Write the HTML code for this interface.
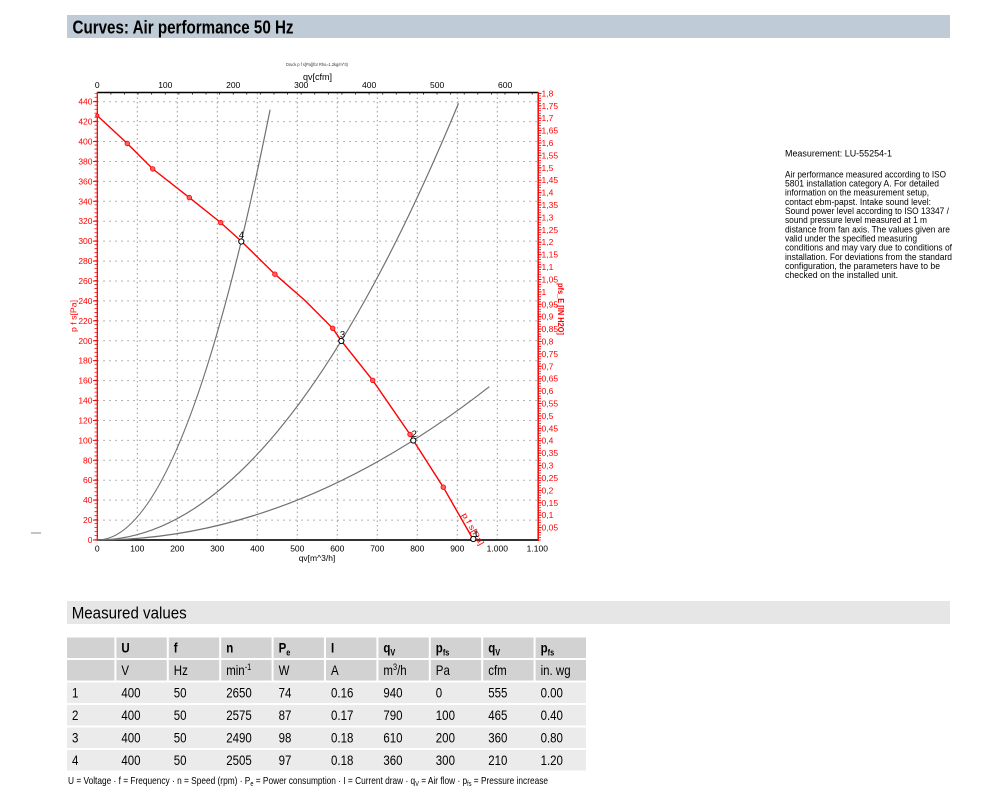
<!DOCTYPE html>
<html><head><meta charset="utf-8"><style>
html,body{margin:0;padding:0;background:#fff;}
svg{display:block;}
text{font-family:"Liberation Sans",Arial,sans-serif;}
</style></head><body>
<svg width="1000" height="810" viewBox="0 0 1000 810" xmlns="http://www.w3.org/2000/svg">
<rect x="0" y="0" width="1000" height="810" fill="#fff"/>
<!-- Header -->
<rect x="67" y="15" width="883" height="23" fill="#bfcbd6"/>
<text x="72.5" y="33.3" font-size="18" font-weight="bold" fill="#000" textLength="221" lengthAdjust="spacingAndGlyphs">Curves: Air performance 50 Hz</text>

<!-- Chart titles -->
<text x="286" y="66" font-size="4.5" fill="#333" textLength="62" lengthAdjust="spacingAndGlyphs">Druck p f s[Pa](für Rho=1.2kg/m^3)</text>
<text x="317.5" y="80" font-size="9" text-anchor="middle" fill="#000">qv[cfm]</text>
<text x="317" y="561" font-size="8.5" text-anchor="middle" fill="#000">qv[m^3/h]</text>

<!-- Grid -->
<g stroke="#9a9a9a" stroke-width="1" stroke-dasharray="1.5,4.5" fill="none">
<line x1="97.3" y1="520.08" x2="538" y2="520.08"/>
<line x1="97.3" y1="500.15" x2="538" y2="500.15"/>
<line x1="97.3" y1="480.23" x2="538" y2="480.23"/>
<line x1="97.3" y1="460.31" x2="538" y2="460.31"/>
<line x1="97.3" y1="440.39" x2="538" y2="440.39"/>
<line x1="97.3" y1="420.46" x2="538" y2="420.46"/>
<line x1="97.3" y1="400.54" x2="538" y2="400.54"/>
<line x1="97.3" y1="380.62" x2="538" y2="380.62"/>
<line x1="97.3" y1="360.69" x2="538" y2="360.69"/>
<line x1="97.3" y1="340.77" x2="538" y2="340.77"/>
<line x1="97.3" y1="320.85" x2="538" y2="320.85"/>
<line x1="97.3" y1="300.93" x2="538" y2="300.93"/>
<line x1="97.3" y1="281.0" x2="538" y2="281.0"/>
<line x1="97.3" y1="261.08" x2="538" y2="261.08"/>
<line x1="97.3" y1="241.16" x2="538" y2="241.16"/>
<line x1="97.3" y1="221.23" x2="538" y2="221.23"/>
<line x1="97.3" y1="201.31" x2="538" y2="201.31"/>
<line x1="97.3" y1="181.39" x2="538" y2="181.39"/>
<line x1="97.3" y1="161.47" x2="538" y2="161.47"/>
<line x1="97.3" y1="141.54" x2="538" y2="141.54"/>
<line x1="97.3" y1="121.62" x2="538" y2="121.62"/>
<line x1="97.3" y1="101.7" x2="538" y2="101.7"/>
</g>
<g stroke="#9a9a9a" stroke-width="1" stroke-dasharray="1.5,3" fill="none">
<line x1="137.3" y1="93" x2="137.3" y2="540"/>
<line x1="177.3" y1="93" x2="177.3" y2="540"/>
<line x1="217.3" y1="93" x2="217.3" y2="540"/>
<line x1="257.3" y1="93" x2="257.3" y2="540"/>
<line x1="297.3" y1="93" x2="297.3" y2="540"/>
<line x1="337.3" y1="93" x2="337.3" y2="540"/>
<line x1="377.3" y1="93" x2="377.3" y2="540"/>
<line x1="417.3" y1="93" x2="417.3" y2="540"/>
<line x1="457.3" y1="93" x2="457.3" y2="540"/>
<line x1="497.3" y1="93" x2="497.3" y2="540"/>
</g>

<!-- Axes -->
<line x1="97" y1="92.5" x2="538" y2="92.5" stroke="#000" stroke-width="1.5"/>
<line x1="96.9" y1="93.5" x2="538" y2="93.5" stroke="#000" stroke-width="2" stroke-dasharray="0.8,12.79"/>
<line x1="97" y1="540" x2="538" y2="540" stroke="#333" stroke-width="2"/>
<line x1="97.3" y1="92" x2="97.3" y2="541" stroke="#f00" stroke-width="1.3"/>
<line x1="95.8" y1="540" x2="95.8" y2="93" stroke="#f00" stroke-width="2.6" stroke-dasharray="0.8,3.185"/>
<line x1="538.2" y1="92" x2="538.2" y2="541" stroke="#f00" stroke-width="1.5"/>
<line x1="539.7" y1="540.4" x2="539.7" y2="93" stroke="#f00" stroke-width="2.6" stroke-dasharray="0.8,1.6813"/>

<!-- Left ticks major -->
<g stroke="#f00" stroke-width="1">
<line x1="93" y1="540" x2="97" y2="540"/><line x1="93" y1="520.08" x2="97" y2="520.08"/><line x1="93" y1="500.15" x2="97" y2="500.15"/><line x1="93" y1="480.23" x2="97" y2="480.23"/><line x1="93" y1="460.31" x2="97" y2="460.31"/><line x1="93" y1="440.39" x2="97" y2="440.39"/><line x1="93" y1="420.46" x2="97" y2="420.46"/><line x1="93" y1="400.54" x2="97" y2="400.54"/><line x1="93" y1="380.62" x2="97" y2="380.62"/><line x1="93" y1="360.69" x2="97" y2="360.69"/><line x1="93" y1="340.77" x2="97" y2="340.77"/><line x1="93" y1="320.85" x2="97" y2="320.85"/><line x1="93" y1="300.93" x2="97" y2="300.93"/><line x1="93" y1="281" x2="97" y2="281"/><line x1="93" y1="261.08" x2="97" y2="261.08"/><line x1="93" y1="241.16" x2="97" y2="241.16"/><line x1="93" y1="221.23" x2="97" y2="221.23"/><line x1="93" y1="201.31" x2="97" y2="201.31"/><line x1="93" y1="181.39" x2="97" y2="181.39"/><line x1="93" y1="161.47" x2="97" y2="161.47"/><line x1="93" y1="141.54" x2="97" y2="141.54"/><line x1="93" y1="121.62" x2="97" y2="121.62"/><line x1="93" y1="101.7" x2="97" y2="101.7"/>
</g>

<!-- Left labels -->
<g font-size="8.5" fill="#f00" text-anchor="end">
<text x="92.5" y="543">0</text><text x="92.5" y="523.1">20</text><text x="92.5" y="503.2">40</text><text x="92.5" y="483.2">60</text><text x="92.5" y="463.3">80</text><text x="92.5" y="443.4">100</text><text x="92.5" y="423.5">120</text><text x="92.5" y="403.5">140</text><text x="92.5" y="383.6">160</text><text x="92.5" y="363.7">180</text><text x="92.5" y="343.8">200</text><text x="92.5" y="323.9">220</text><text x="92.5" y="303.9">240</text><text x="92.5" y="284">260</text><text x="92.5" y="264.1">280</text><text x="92.5" y="244.2">300</text><text x="92.5" y="224.2">320</text><text x="92.5" y="204.3">340</text><text x="92.5" y="184.4">360</text><text x="92.5" y="164.5">380</text><text x="92.5" y="144.5">400</text><text x="92.5" y="124.6">420</text><text x="92.5" y="104.7">440</text>
</g>
<text transform="translate(76.5,316) rotate(-90)" font-size="8" fill="#f00" text-anchor="middle" textLength="32" lengthAdjust="spacingAndGlyphs">p f s[Pa]</text>

<!-- Right ticks major -->
<g stroke="#f00" stroke-width="1">
<line x1="538" y1="527.6" x2="541.5" y2="527.6"/><line x1="538" y1="515.2" x2="541.5" y2="515.2"/><line x1="538" y1="502.8" x2="541.5" y2="502.8"/><line x1="538" y1="490.4" x2="541.5" y2="490.4"/><line x1="538" y1="478" x2="541.5" y2="478"/><line x1="538" y1="465.6" x2="541.5" y2="465.6"/><line x1="538" y1="453.2" x2="541.5" y2="453.2"/><line x1="538" y1="440.7" x2="541.5" y2="440.7"/><line x1="538" y1="428.3" x2="541.5" y2="428.3"/><line x1="538" y1="415.9" x2="541.5" y2="415.9"/><line x1="538" y1="403.5" x2="541.5" y2="403.5"/><line x1="538" y1="391.1" x2="541.5" y2="391.1"/><line x1="538" y1="378.7" x2="541.5" y2="378.7"/><line x1="538" y1="366.3" x2="541.5" y2="366.3"/><line x1="538" y1="353.9" x2="541.5" y2="353.9"/><line x1="538" y1="341.5" x2="541.5" y2="341.5"/><line x1="538" y1="329.1" x2="541.5" y2="329.1"/><line x1="538" y1="316.7" x2="541.5" y2="316.7"/><line x1="538" y1="304.3" x2="541.5" y2="304.3"/><line x1="538" y1="291.9" x2="541.5" y2="291.9"/><line x1="538" y1="279.5" x2="541.5" y2="279.5"/><line x1="538" y1="267.1" x2="541.5" y2="267.1"/><line x1="538" y1="254.7" x2="541.5" y2="254.7"/><line x1="538" y1="242.2" x2="541.5" y2="242.2"/><line x1="538" y1="229.8" x2="541.5" y2="229.8"/><line x1="538" y1="217.4" x2="541.5" y2="217.4"/><line x1="538" y1="205" x2="541.5" y2="205"/><line x1="538" y1="192.6" x2="541.5" y2="192.6"/><line x1="538" y1="180.2" x2="541.5" y2="180.2"/><line x1="538" y1="167.8" x2="541.5" y2="167.8"/><line x1="538" y1="155.4" x2="541.5" y2="155.4"/><line x1="538" y1="143" x2="541.5" y2="143"/><line x1="538" y1="130.6" x2="541.5" y2="130.6"/><line x1="538" y1="118.2" x2="541.5" y2="118.2"/><line x1="538" y1="105.8" x2="541.5" y2="105.8"/><line x1="538" y1="93.4" x2="541.5" y2="93.4"/>
</g>
<!-- Right labels -->
<g font-size="8.5" fill="#f00">
<text x="541.5" y="530.6">0,05</text><text x="541.5" y="518.2">0,1</text><text x="541.5" y="505.8">0,15</text><text x="541.5" y="493.4">0,2</text><text x="541.5" y="481">0,25</text><text x="541.5" y="468.6">0,3</text><text x="541.5" y="456.2">0,35</text><text x="541.5" y="443.7">0,4</text><text x="541.5" y="431.3">0,45</text><text x="541.5" y="418.9">0,5</text><text x="541.5" y="406.5">0,55</text><text x="541.5" y="394.1">0,6</text><text x="541.5" y="381.7">0,65</text><text x="541.5" y="369.3">0,7</text><text x="541.5" y="356.9">0,75</text><text x="541.5" y="344.5">0,8</text><text x="541.5" y="332.1">0,85</text><text x="541.5" y="319.7">0,9</text><text x="541.5" y="307.3">0,95</text><text x="541.5" y="294.9">1</text><text x="541.5" y="282.5">1,05</text><text x="541.5" y="270.1">1,1</text><text x="541.5" y="257.7">1,15</text><text x="541.5" y="245.2">1,2</text><text x="541.5" y="232.8">1,25</text><text x="541.5" y="220.4">1,3</text><text x="541.5" y="208">1,35</text><text x="541.5" y="195.6">1,4</text><text x="541.5" y="183.2">1,45</text><text x="541.5" y="170.8">1,5</text><text x="541.5" y="158.4">1,55</text><text x="541.5" y="146">1,6</text><text x="541.5" y="133.6">1,65</text><text x="541.5" y="121.2">1,7</text><text x="541.5" y="108.8">1,75</text><text x="541.5" y="96.4">1,8</text>
</g>
<text transform="translate(558,309) rotate(90)" font-size="8" font-weight="bold" fill="#f00" text-anchor="middle" textLength="52" lengthAdjust="spacingAndGlyphs">pfs_E [IN H2O]</text>

<!-- Bottom labels -->
<g font-size="8.5" fill="#000" text-anchor="middle">
<text x="97.3" y="551.5">0</text><text x="137.3" y="551.5">100</text><text x="177.3" y="551.5">200</text><text x="217.3" y="551.5">300</text><text x="257.3" y="551.5">400</text><text x="297.3" y="551.5">500</text><text x="337.3" y="551.5">600</text><text x="377.3" y="551.5">700</text><text x="417.3" y="551.5">800</text><text x="457.3" y="551.5">900</text><text x="497.3" y="551.5">1.000</text><text x="537.3" y="551.5">1.100</text>
</g>
<!-- Top labels -->
<g font-size="8.5" fill="#000" text-anchor="middle">
<text x="97.3" y="88">0</text><text x="165.3" y="88">100</text><text x="233.2" y="88">200</text><text x="301.2" y="88">300</text><text x="369.1" y="88">400</text><text x="437.1" y="88">500</text><text x="505.1" y="88">600</text>
</g>

<!-- System curves -->
<g stroke="#707070" stroke-width="1.2" fill="none">
<path d="M97.3,540 Q183.7,540 270.1,109.7"/>
<path d="M97.3,540 Q277.9,540 458.5,103.4"/>
<path d="M97.3,540 Q293.3,540 489.3,386.7"/>
</g>

<!-- Red fan curve -->
<polyline fill="none" stroke="#f00" stroke-width="1.4" points="97.3,115.6 127.3,143.5 152.7,168.9 189.3,197.6 220.7,222.6 241.3,241.2 274.9,274.2 305,300.5 332.7,328.3 341.3,340.8 372.7,380.3 410,434.4 413.3,440.4 443.3,487.2 473.5,540"/>
<g fill="#ff6060" stroke="#f00" stroke-width="0.8">
<circle cx="97.3" cy="115.6" r="1.6"/>
<circle cx="127.3" cy="143.5" r="2.3"/>
<circle cx="152.7" cy="168.9" r="2.3"/>
<circle cx="189.3" cy="197.6" r="2.3"/>
<circle cx="220.7" cy="222.6" r="2.3"/>
<circle cx="274.9" cy="274.2" r="2.3"/>
<circle cx="332.7" cy="328.3" r="2.3"/>
<circle cx="372.7" cy="380.3" r="2.3"/>
<circle cx="410" cy="434.4" r="2.3"/>
<circle cx="443.3" cy="487.2" r="2.3"/>
</g>
<text transform="translate(461.8,514.7) rotate(60.4)" font-size="8" fill="#f00" textLength="36" lengthAdjust="spacingAndGlyphs">p f s[Pa]</text>

<!-- Operating points -->
<g fill="#fff" stroke="#000" stroke-width="1">
<circle cx="241.3" cy="241.5" r="2.6"/>
<circle cx="341.3" cy="341" r="2.6"/>
<circle cx="413.3" cy="440.5" r="2.6"/>
<circle cx="473.3" cy="539" r="2.6"/>
</g>
<g font-size="9.5" fill="#000" text-anchor="middle">
<text x="241.5" y="238">4</text>
<text x="342.5" y="337.5">3</text>
<text x="414.3" y="437">2</text>
<text x="476" y="537">1</text>
</g>

<line x1="31" y1="533" x2="41" y2="533" stroke="#888" stroke-width="1"/>

<!-- Right description -->
<g font-size="9" fill="#000">
<text x="785" y="156.7" textLength="107" lengthAdjust="spacingAndGlyphs">Measurement: LU-55254-1</text>
<text x="785" y="177.3" textLength="161" lengthAdjust="spacingAndGlyphs">Air performance measured according to ISO</text>
<text x="785" y="186.5" textLength="154" lengthAdjust="spacingAndGlyphs">5801 installation category A. For detailed</text>
<text x="785" y="195.6" textLength="144" lengthAdjust="spacingAndGlyphs">information on the measurement setup,</text>
<text x="785" y="204.8" textLength="146" lengthAdjust="spacingAndGlyphs">contact ebm-papst. Intake sound level:</text>
<text x="785" y="214" textLength="164" lengthAdjust="spacingAndGlyphs">Sound power level according to ISO 13347 /</text>
<text x="785" y="223.2" textLength="142" lengthAdjust="spacingAndGlyphs">sound pressure level measured at 1 m</text>
<text x="785" y="232.3" textLength="165" lengthAdjust="spacingAndGlyphs">distance from fan axis. The values given are</text>
<text x="785" y="241.5" textLength="132" lengthAdjust="spacingAndGlyphs">valid under the specified measuring</text>
<text x="785" y="250.7" textLength="167" lengthAdjust="spacingAndGlyphs">conditions and may vary due to conditions of</text>
<text x="785" y="259.8" textLength="167" lengthAdjust="spacingAndGlyphs">installation. For deviations from the standard</text>
<text x="785" y="269" textLength="155" lengthAdjust="spacingAndGlyphs">configuration, the parameters have to be</text>
<text x="785" y="278.2" textLength="113" lengthAdjust="spacingAndGlyphs">checked on the installed unit.</text>
</g>

<!-- Measured values -->
<rect x="67" y="601" width="883" height="23" fill="#e6e6e6"/>
<text x="71.7" y="618.3" font-size="16.5" fill="#000" textLength="115" lengthAdjust="spacingAndGlyphs">Measured values</text>

<!-- Table backgrounds -->
<g fill="#d2d2d2">
<rect x="67" y="637.5" width="47.4" height="20.5"/><rect x="116.4" y="637.5" width="50.4" height="20.5"/><rect x="168.8" y="637.5" width="50.4" height="20.5"/><rect x="221.2" y="637.5" width="50.4" height="20.5"/><rect x="273.6" y="637.5" width="50.4" height="20.5"/><rect x="326" y="637.5" width="50.4" height="20.5"/><rect x="378.4" y="637.5" width="50.4" height="20.5"/><rect x="430.8" y="637.5" width="50.4" height="20.5"/><rect x="483.2" y="637.5" width="50.4" height="20.5"/><rect x="535.6" y="637.5" width="50.4" height="20.5"/>
<rect x="67" y="660" width="47.4" height="20.5"/><rect x="116.4" y="660" width="50.4" height="20.5"/><rect x="168.8" y="660" width="50.4" height="20.5"/><rect x="221.2" y="660" width="50.4" height="20.5"/><rect x="273.6" y="660" width="50.4" height="20.5"/><rect x="326" y="660" width="50.4" height="20.5"/><rect x="378.4" y="660" width="50.4" height="20.5"/><rect x="430.8" y="660" width="50.4" height="20.5"/><rect x="483.2" y="660" width="50.4" height="20.5"/><rect x="535.6" y="660" width="50.4" height="20.5"/>
</g>
<g fill="#ebebeb">
<rect x="67" y="682.5" width="519" height="20.5"/>
<rect x="67" y="705" width="519" height="20.5"/>
<rect x="67" y="727.5" width="519" height="20.5"/>
<rect x="67" y="750" width="519" height="20.5"/>
</g>

<!-- Table text -->
<g font-size="14" fill="#000" font-weight="bold">
<text transform="translate(121.4,652.5) scale(0.82,1)">U</text>
<text transform="translate(173.8,652.5) scale(0.82,1)">f</text>
<text transform="translate(226.2,652.5) scale(0.82,1)">n</text>
<text transform="translate(278.6,652.5) scale(0.82,1)">P<tspan font-size="9" dy="3">e</tspan></text>
<text transform="translate(331,652.5) scale(0.82,1)">I</text>
<text transform="translate(383.4,652.5) scale(0.82,1)">q<tspan font-size="9" dy="3">V</tspan></text>
<text transform="translate(435.8,652.5) scale(0.82,1)">p<tspan font-size="9" dy="3">fs</tspan></text>
<text transform="translate(488.2,652.5) scale(0.82,1)">q<tspan font-size="9" dy="3">V</tspan></text>
<text transform="translate(540.6,652.5) scale(0.82,1)">p<tspan font-size="9" dy="3">fs</tspan></text>
</g>
<g font-size="14" fill="#000">
<text transform="translate(121.4,675) scale(0.82,1)">V</text>
<text transform="translate(173.8,675) scale(0.82,1)">Hz</text>
<text transform="translate(226.2,675) scale(0.82,1)">min<tspan font-size="9" dy="-5">-1</tspan></text>
<text transform="translate(278.6,675) scale(0.82,1)">W</text>
<text transform="translate(331,675) scale(0.82,1)">A</text>
<text transform="translate(383.4,675) scale(0.82,1)">m<tspan font-size="9" dy="-5">3</tspan><tspan dy="5">/h</tspan></text>
<text transform="translate(435.8,675) scale(0.82,1)">Pa</text>
<text transform="translate(488.2,675) scale(0.82,1)">cfm</text>
<text transform="translate(540.6,675) scale(0.82,1)">in. wg</text>

<text transform="translate(72,697.5) scale(0.82,1)">1</text>
<text transform="translate(121.4,697.5) scale(0.82,1)">400</text>
<text transform="translate(173.8,697.5) scale(0.82,1)">50</text>
<text transform="translate(226.2,697.5) scale(0.82,1)">2650</text>
<text transform="translate(278.6,697.5) scale(0.82,1)">74</text>
<text transform="translate(331,697.5) scale(0.82,1)">0.16</text>
<text transform="translate(383.4,697.5) scale(0.82,1)">940</text>
<text transform="translate(435.8,697.5) scale(0.82,1)">0</text>
<text transform="translate(488.2,697.5) scale(0.82,1)">555</text>
<text transform="translate(540.6,697.5) scale(0.82,1)">0.00</text>

<text transform="translate(72,720) scale(0.82,1)">2</text>
<text transform="translate(121.4,720) scale(0.82,1)">400</text>
<text transform="translate(173.8,720) scale(0.82,1)">50</text>
<text transform="translate(226.2,720) scale(0.82,1)">2575</text>
<text transform="translate(278.6,720) scale(0.82,1)">87</text>
<text transform="translate(331,720) scale(0.82,1)">0.17</text>
<text transform="translate(383.4,720) scale(0.82,1)">790</text>
<text transform="translate(435.8,720) scale(0.82,1)">100</text>
<text transform="translate(488.2,720) scale(0.82,1)">465</text>
<text transform="translate(540.6,720) scale(0.82,1)">0.40</text>

<text transform="translate(72,742.5) scale(0.82,1)">3</text>
<text transform="translate(121.4,742.5) scale(0.82,1)">400</text>
<text transform="translate(173.8,742.5) scale(0.82,1)">50</text>
<text transform="translate(226.2,742.5) scale(0.82,1)">2490</text>
<text transform="translate(278.6,742.5) scale(0.82,1)">98</text>
<text transform="translate(331,742.5) scale(0.82,1)">0.18</text>
<text transform="translate(383.4,742.5) scale(0.82,1)">610</text>
<text transform="translate(435.8,742.5) scale(0.82,1)">200</text>
<text transform="translate(488.2,742.5) scale(0.82,1)">360</text>
<text transform="translate(540.6,742.5) scale(0.82,1)">0.80</text>

<text transform="translate(72,765) scale(0.82,1)">4</text>
<text transform="translate(121.4,765) scale(0.82,1)">400</text>
<text transform="translate(173.8,765) scale(0.82,1)">50</text>
<text transform="translate(226.2,765) scale(0.82,1)">2505</text>
<text transform="translate(278.6,765) scale(0.82,1)">97</text>
<text transform="translate(331,765) scale(0.82,1)">0.18</text>
<text transform="translate(383.4,765) scale(0.82,1)">360</text>
<text transform="translate(435.8,765) scale(0.82,1)">300</text>
<text transform="translate(488.2,765) scale(0.82,1)">210</text>
<text transform="translate(540.6,765) scale(0.82,1)">1.20</text>
</g>

<!-- Footer -->
<text x="68" y="784" font-size="10.5" fill="#000" textLength="480" lengthAdjust="spacingAndGlyphs">U = Voltage · f = Frequency · n = Speed (rpm) · P<tspan font-size="7" dy="2">e</tspan><tspan dy="-2"> = Power consumption · I = Current draw · q</tspan><tspan font-size="7" dy="2">V</tspan><tspan dy="-2"> = Air flow · p</tspan><tspan font-size="7" dy="2">fs</tspan><tspan dy="-2"> = Pressure increase</tspan></text>
</svg>
</body></html>
